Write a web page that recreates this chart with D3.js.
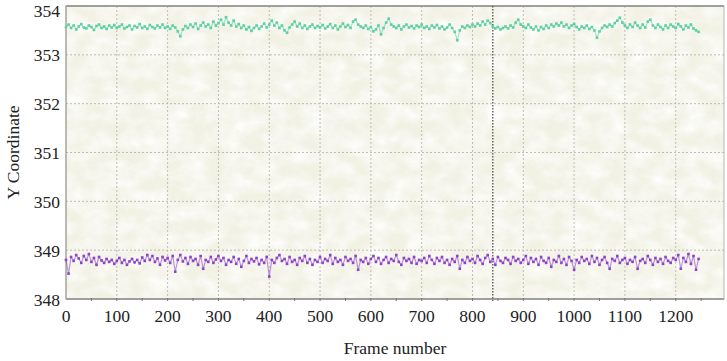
<!DOCTYPE html>
<html>
<head>
<meta charset="utf-8">
<script src="https://cdn.jsdelivr.net/npm/d3@7"></script>
<style>
  html, body { margin: 0; padding: 0; background: #fff; }
  .lbl { font-family: 'Liberation Serif', serif; fill: #222; }
</style>
</head>
<body>
<svg id="chart" width="727" height="361"></svg>
<script>
// frame step between stored samples
const frameStep = 5;
const yTicks = [348, 349, 350, 351, 352, 353, 354];
const xTicks = [0, 100, 200, 300, 400, 500, 600, 700, 800, 900, 1000, 1100, 1200];
const markerFrame = 840;

const upperY = [
  353.57,353.62,353.55,353.60,353.52,353.58,353.63,353.56,353.54,353.60,353.57,353.51,353.59,353.62,353.55,353.58,353.53,353.60,353.56,353.61,
  353.55,353.58,353.62,353.54,353.57,353.60,353.52,353.59,353.56,353.63,353.55,353.58,353.53,353.61,353.57,353.54,353.60,353.56,353.62,353.55,
  353.58,353.53,353.60,353.56,353.48,353.38,353.52,353.59,353.55,353.62,353.57,353.64,353.53,353.60,353.66,353.58,353.62,353.55,353.68,353.60,
  353.65,353.72,353.62,353.77,353.66,353.60,353.70,353.58,353.63,353.55,353.60,353.52,353.57,353.49,353.55,353.60,353.53,353.58,353.64,353.56,
  353.62,353.70,353.60,353.66,353.55,353.60,353.50,353.45,353.56,353.62,353.68,353.58,353.64,353.55,353.60,353.53,353.58,353.62,353.55,353.59,
  353.56,353.61,353.54,353.58,353.63,353.55,353.60,353.52,353.58,353.64,353.57,353.61,353.55,353.68,353.72,353.62,353.58,353.55,353.60,353.53,
  353.57,353.48,353.52,353.60,353.42,353.55,353.66,353.74,353.62,353.58,353.55,353.60,353.52,353.58,353.62,353.56,353.59,353.54,353.60,353.57,
  353.62,353.55,353.58,353.53,353.60,353.56,353.61,353.54,353.58,353.52,353.56,353.62,353.55,353.47,353.30,353.50,353.58,353.55,353.60,353.57,
  353.62,353.58,353.64,353.60,353.68,353.62,353.70,353.65,353.58,353.54,353.57,353.52,353.55,353.58,353.54,353.60,353.56,353.66,353.72,353.62,
  353.58,353.55,353.62,353.56,353.52,353.58,353.50,353.57,353.53,353.60,353.55,353.62,353.58,353.64,353.60,353.66,353.58,353.62,353.55,353.60,
  353.63,353.57,353.52,353.58,353.55,353.60,353.53,353.57,353.50,353.35,353.48,353.55,353.60,353.57,353.62,353.58,353.65,353.70,353.76,353.66,
  353.60,353.55,353.62,353.57,353.66,353.60,353.55,353.62,353.56,353.68,353.72,353.60,353.55,353.62,353.57,353.52,353.60,353.55,353.62,353.58,
  353.55,353.63,353.58,353.52,353.60,353.56,353.62,353.54,353.50,353.47
];

const lowerY = [
  348.80,348.52,348.86,348.78,348.90,348.83,348.74,348.88,348.80,348.92,348.76,348.84,348.70,348.86,348.79,348.74,348.82,348.76,348.80,348.72,
  348.78,348.84,348.74,348.80,348.70,348.77,348.82,348.75,348.80,348.73,348.85,348.78,348.90,348.80,348.88,348.76,348.83,348.70,348.86,348.79,
  348.84,348.74,348.88,348.56,348.80,348.90,348.77,348.84,348.72,348.86,348.78,348.82,348.70,348.88,348.62,348.80,348.76,348.86,348.74,348.81,
  348.88,348.78,348.84,348.70,348.80,348.76,348.86,348.72,348.82,348.66,348.78,348.88,348.74,348.82,348.77,348.84,348.71,348.80,348.74,348.86,
  348.46,348.80,348.74,348.84,348.90,348.78,348.82,348.72,348.86,348.76,348.80,348.70,348.84,348.78,348.88,348.74,348.82,348.70,348.80,348.76,
  348.86,348.74,348.82,348.78,348.90,348.72,348.84,348.76,348.80,348.70,348.86,348.78,348.82,348.74,348.88,348.60,348.80,348.76,348.84,348.72,
  348.82,348.88,348.76,348.84,348.72,348.80,348.86,348.74,348.82,348.78,348.90,348.76,348.70,348.84,348.78,348.82,348.74,348.86,348.72,348.80,
  348.78,348.84,348.74,348.88,348.80,348.72,348.84,348.78,348.86,348.74,348.80,348.70,348.82,348.76,348.88,348.62,348.80,348.74,348.86,348.78,
  348.82,348.74,348.88,348.80,348.72,348.84,348.90,348.76,348.82,348.70,348.86,348.78,348.74,348.84,348.80,348.72,348.86,348.78,348.82,348.74,
  348.80,348.88,348.72,348.84,348.76,348.82,348.70,348.86,348.78,348.74,348.84,348.66,348.80,348.76,348.88,348.74,348.82,348.70,348.86,348.78,
  348.60,348.80,348.74,348.86,348.78,348.82,348.72,348.88,348.76,348.84,348.70,348.80,348.86,348.74,348.62,348.82,348.78,348.88,348.74,348.80,
  348.84,348.72,348.80,348.76,348.86,348.62,348.78,348.82,348.74,348.88,348.80,348.70,348.84,348.76,348.82,348.72,348.86,348.78,348.74,348.84,
  348.80,348.90,348.62,348.84,348.76,348.92,348.72,348.88,348.60,348.82
];

const svg = d3.select('#chart');
const margin = {left: 66, top: 6, right: 3, bottom: 62};
const width = 727 - margin.left - margin.right;
const height = 361 - margin.top - margin.bottom;

const xScale = d3.scaleLinear().domain([0, 1295]).range([0, width]);
const yScale = d3.scaleLinear().domain([348, 354]).range([height, 0]);

// paper-like texture for the plot background
const defs = svg.append('defs');
const filt = defs.append('filter').attr('id', 'paper')
  .attr('x', 0).attr('y', 0).attr('width', '100%').attr('height', '100%');
filt.append('feTurbulence').attr('type', 'fractalNoise')
  .attr('baseFrequency', '0.05 0.07').attr('numOctaves', 4).attr('seed', 3);
filt.append('feColorMatrix').attr('type', 'matrix')
  .attr('values', '0 0 0 0 1  0 0 0 0 1  0 0 0 0 0.99  1.8 0 0 0 -0.55');

const mainG = svg.append('g')
  .attr('transform', `translate(${margin.left},${margin.top})`);

mainG.append('rect').attr('width', width).attr('height', height).attr('fill', '#f1f1e4');
mainG.append('rect').attr('width', width).attr('height', height)
  .attr('filter', 'url(#paper)').attr('opacity', 0.9);

// grid
mainG.append('g').selectAll('line')
  .data(xTicks.slice(1))
  .enter().append('line')
  .attr('x1', d => xScale(d)).attr('x2', d => xScale(d))
  .attr('y1', 0).attr('y2', height)
  .attr('stroke', '#bdbdb5').attr('stroke-width', 1).attr('stroke-dasharray', '2,2');
mainG.append('g').selectAll('line')
  .data(yTicks.slice(1, -1))
  .enter().append('line')
  .attr('x1', 0).attr('x2', width)
  .attr('y1', d => yScale(d)).attr('y2', d => yScale(d))
  .attr('stroke', '#bdbdb5').attr('stroke-width', 1).attr('stroke-dasharray', '2,2');

// frame
mainG.append('rect').attr('width', width).attr('height', height)
  .attr('fill', 'none').attr('stroke', '#b8b8b0').attr('stroke-width', 1);
mainG.append('line').attr('x1', 0).attr('x2', width).attr('y1', 0).attr('y2', 0)
  .attr('stroke', '#8c8c88').attr('stroke-width', 1.5);
mainG.append('line').attr('x1', 0).attr('x2', width).attr('y1', height).attr('y2', height)
  .attr('stroke', '#8c8c88').attr('stroke-width', 1.5);
mainG.append('line').attr('x1', 0).attr('x2', 0).attr('y1', 0).attr('y2', height)
  .attr('stroke', '#9a9a94').attr('stroke-width', 1);

// minor ticks on bottom axis
mainG.append('g').selectAll('line')
  .data(d3.range(50, 1295, 50))
  .enter().append('line')
  .attr('x1', d => xScale(d)).attr('x2', d => xScale(d))
  .attr('y1', height - 1).attr('y2', height + 2)
  .attr('stroke', '#777').attr('stroke-width', 1);

// marker line
mainG.append('line')
  .attr('x1', xScale(markerFrame)).attr('x2', xScale(markerFrame))
  .attr('y1', 0).attr('y2', height + 2)
  .attr('stroke', '#444').attr('stroke-width', 1.2).attr('stroke-dasharray', '1.5,1.5');

// series
const series = [
  {values: upperY, color: '#5ccfa4'},
  {values: lowerY, color: '#8d42c8'}
];
const line = d3.line()
  .x((d, i) => xScale(i * frameStep))
  .y(d => yScale(d));
series.forEach(s => {
  mainG.append('path').datum(s.values)
    .attr('d', line).attr('fill', 'none')
    .attr('stroke', s.color).attr('stroke-width', 1.2).attr('opacity', 0.55);
  mainG.append('g').selectAll('rect')
    .data(s.values)
    .enter().append('rect')
    .attr('x', (d, i) => xScale(i * frameStep) - 1.3)
    .attr('y', d => yScale(d) - 1.3)
    .attr('width', 2.6).attr('height', 2.6)
    .attr('fill', s.color);
});

// tick labels
svg.append('g').selectAll('text')
  .data(yTicks)
  .enter().append('text')
  .attr('class', 'lbl')
  .attr('x', margin.left - 6)
  .attr('y', d => margin.top + yScale(d) + (d === 354 ? 11 : 6.5))
  .attr('text-anchor', 'end')
  .style('font-size', '17.5px')
  .text(d => d);
svg.append('g').selectAll('text')
  .data(xTicks)
  .enter().append('text')
  .attr('class', 'lbl')
  .attr('x', d => margin.left + xScale(d))
  .attr('y', margin.top + height + 23)
  .attr('text-anchor', 'middle')
  .style('font-size', '17.5px')
  .text(d => d);

// axis titles
svg.append('text')
  .attr('class', 'lbl')
  .attr('transform', `translate(19,${margin.top + height / 2}) rotate(-90)`)
  .attr('text-anchor', 'middle')
  .style('font-size', '17.5px')
  .text('Y Coordinate');
svg.append('text')
  .attr('class', 'lbl')
  .attr('x', margin.left + width / 2)
  .attr('y', 354)
  .attr('text-anchor', 'middle')
  .style('font-size', '17.5px')
  .text('Frame number');
</script>
</body>
</html>
